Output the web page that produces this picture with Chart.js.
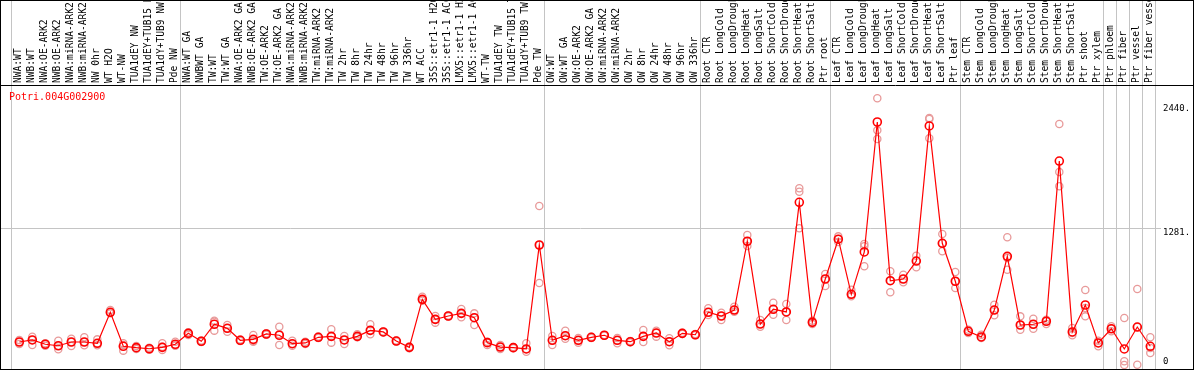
<!DOCTYPE html>
<html>
<head>
<meta charset="utf-8">
<script src="https://cdn.jsdelivr.net/npm/chart.js@4/dist/chart.umd.min.js"></script>
<style>
html,body{margin:0;padding:0;background:#fff;}
#wrap{width:1194px;height:370px;position:relative;}
canvas{display:block;}
</style>
</head>
<body>
<div id="wrap"><canvas id="c" width="1194" height="370"></canvas></div>
<script>
const title = "Potri.004G002900";
const labels = [
 "NWA:WT","NWB:WT","NWA:OE-ARK2","NWB:OE-ARK2","NWA:miRNA-ARK2","NWB:miRNA-ARK2","NW 0hr","WT H2O","WT-NW","TUA1dEY NW","TUA1dEY+TUB15 NW","TUA1dY+TUB9 NW","Pde NW",
 "NWA:WT GA","NWBWT GA","TW:WT","TW:WT GA","NWA:OE-ARK2 GA","NWB:OE-ARK2 GA","TW:OE-ARK2","TW:OE-ARK2 GA","NWA:miRNA-ARK2 GA","NWB:miRNA-ARK2 GA","TW:miRNA-ARK2","TW:miRNA-ARK2",
 "TW 2hr","TW 8hr","TW 24hr","TW 48hr","TW 96hr","TW 336hr","WT ACC","35S::etr1-1 H2O","35S::etr1-1 ACC","LMX5::etr1-1 H2O","LMX5::etr1-1 ACC","WT-TW","TUA1dEY TW","TUA1dEY+TUB15 TW","TUA1dY+TUB9 TW","Pde TW",
 "OW:WT","OW:WT GA","OW:OE-ARK2","OW:OE-ARK2 GA","OW:miRNA-ARK2","OW:miRNA-ARK2","OW 2hr","OW 8hr","OW 24hr","OW 48hr","OW 96hr","OW 336hr",
 "Root CTR","Root LongCold","Root LongDrought","Root LongHeat","Root LongSalt","Root ShortCold","Root ShortDrought","Root ShortHeat","Root ShortSalt","Ptr root",
 "Leaf CTR","Leaf LongCold","Leaf LongDrought","Leaf LongHeat","Leaf LongSalt","Leaf ShortCold","Leaf ShortDrought","Leaf ShortHeat","Leaf ShortSalt","Ptr leaf",
 "Stem CTR","Stem LongCold","Stem LongDrought","Stem LongHeat","Stem LongSalt","Stem ShortCold","Stem ShortDrought","Stem ShortHeat","Stem ShortSalt","Ptr shoot","Ptr xylem",
 "Ptr phloem","Ptr fiber","Ptr vessel","Ptr fiber vessel"
];
const means = [
 215,234,194,180,215,215,203,493,175,162,152,165,194,
 296,222,381,343,231,240,290,278,199,206,259,268,
 234,268,324,309,224,165,614,427,458,483,442,209,168,162,150,1122,
 231,274,231,259,278,231,218,268,299,218,296,283,
 493,458,514,1157,383,521,496,1521,399,804,
 1176,661,1057,2272,788,804,972,2235,1138,783,
 315,262,514,1016,374,381,409,1907,309,561,206,
 339,150,355,175
];
const rep1 = [
 234,265,203,227,246,259,240,514,187,178,162,203,218,
 306,229,405,374,238,281,296,358,227,218,266,334,
 271,287,381,313,229,171,639,458,463,524,483,218,187,168,203,1487,
 271,321,252,265,281,252,224,327,321,250,302,290,
 530,489,545,1216,421,583,570,1652,414,851,
 1203,704,1131,2494,876,844,1022,2300,1225,870,
 299,283,564,1194,455,433,383,2253,278,701,227,
 362,439,711,259
];
const rep2 = [
 215,187,180,147,178,184,203,483,134,159,152,140,180,
 281,222,321,311,231,218,290,187,180,206,259,209,
 196,259,287,309,224,165,601,396,458,446,374,187,150,162,124,767,
 187,246,231,259,278,203,218,215,265,184,296,283,
 468,421,498,1113,383,470,421,1620,399,739,
 1150,642,923,2194,680,773,913,2120,1063,720,
 315,252,465,891,330,339,409,1805,299,455,175,
 339,35,3,112
];
const rep3 = [
 196,234,194,180,215,215,184,493,203,150,143,171,184,
 296,215,414,343,224,224,283,287,199,196,252,268,
 234,271,324,304,220,156,614,427,453,483,442,209,168,156,150,1122,
 231,274,209,252,274,231,212,268,299,218,290,278,
 493,458,514,1157,358,521,496,1278,383,804,
 1178,661,1110,2113,788,804,972,2309,1138,783,
 330,262,514,1000,374,381,424,1671,346,533,206,
 315,0,355,159
];
const groupStarts = [0,13,41,53,63,73,84,85,86,87,88];
const tickValues = [0,1281,2440];
const tickLabels = ["0","1281.","2440."];
const gridValues = [1281];

const RED = "#ff0000";
const PINK = "#e89a9a";
const GRID = "#c4c4c4";
const MONO = "'DejaVu Sans Mono', 'Liberation Mono', monospace";

const repPoints = [];
[rep1, rep2, rep3].forEach(arr => arr.forEach((v, i) => repPoints.push({x: i, y: v})));
const meanPoints = means.map((v, i) => ({x: i, y: v}));

const frame = {
  id: 'frame',
  beforeDatasetsDraw(chart) {
    const ctx = chart.ctx;
    const xs = chart.scales.x, ys = chart.scales.y;
    ctx.save();
    ctx.strokeStyle = GRID; ctx.lineWidth = 1;
    groupStarts.forEach(g => {
      const px = Math.round(xs.getPixelForValue(g - 0.62)) + 0.5;
      ctx.beginPath(); ctx.moveTo(px, 0); ctx.lineTo(px, 370); ctx.stroke();
    });
    gridValues.forEach(v => {
      const py = Math.round(ys.getPixelForValue(v)) + 0.5;
      ctx.beginPath(); ctx.moveTo(0, py); ctx.lineTo(1161, py); ctx.stroke();
    });
    ctx.restore();
  },
  afterDraw(chart) {
    const ctx = chart.ctx;
    const xs = chart.scales.x, ys = chart.scales.y;
    ctx.save();
    // category labels (rotated, clipped at top)
    ctx.save();
    ctx.beginPath(); ctx.rect(0, 1, 1194, 84); ctx.clip();
    ctx.fillStyle = "#000";
    ctx.font = "9.6px " + MONO;
    ctx.textAlign = "left"; ctx.textBaseline = "middle";
    labels.forEach((lab, i) => {
      const px = xs.getPixelForValue(i);
      ctx.save();
      ctx.translate(px - 1, 83);
      ctx.rotate(-Math.PI / 2);
      ctx.fillText(lab, 0, 0);
      ctx.restore();
    });
    ctx.restore();
    // title
    ctx.fillStyle = RED;
    ctx.font = "10px " + MONO;
    ctx.textAlign = "left"; ctx.textBaseline = "middle";
    ctx.fillText(title, 9, 97);
    // right tick labels
    ctx.fillStyle = "#000";
    ctx.font = "9px " + MONO;
    tickValues.forEach((v, k) => {
      const py = ys.getPixelForValue(v);
      ctx.textBaseline = v === 0 ? "bottom" : "top";
      ctx.fillText(tickLabels[k], 1163, v === 0 ? py + 1 : py);
    });
    // frame lines
    ctx.strokeStyle = "#000"; ctx.lineWidth = 1;
    ctx.strokeRect(0.5, 0.5, 1193, 369);
    ctx.beginPath(); ctx.moveTo(0, 85.5); ctx.lineTo(1194, 85.5); ctx.stroke();
    ctx.restore();
  }
};

new Chart(document.getElementById('c'), {
  type: 'scatter',
  data: {
    datasets: [
      {
        label: 'mean', data: meanPoints, showLine: true, order: 0, clip: false,
        borderColor: RED, borderWidth: 1.2,
        pointRadius: 4, pointBorderColor: RED, pointBorderWidth: 1.6,
        pointBackgroundColor: 'rgba(0,0,0,0)', pointHoverRadius: 4
      },
      {
        label: 'replicates', data: repPoints, showLine: false, order: 1, clip: false,
        pointRadius: 3.6, pointBorderColor: PINK, pointBorderWidth: 1.3,
        pointBackgroundColor: 'rgba(0,0,0,0)'
      }
    ]
  },
  options: {
    responsive: false, animation: false, devicePixelRatio: 1,
    layout: { autoPadding: false, padding: { top: 86, left: 1, right: 34, bottom: 1 } },
    plugins: { legend: { display: false }, tooltip: { enabled: false } },
    scales: {
      x: { type: 'linear', min: -1.408, max: 87.746, display: false },
      y: { type: 'linear', min: -37.4, max: 2608.6, display: false }
    }
  },
  plugins: [frame]
});
</script>
</body>
</html>
